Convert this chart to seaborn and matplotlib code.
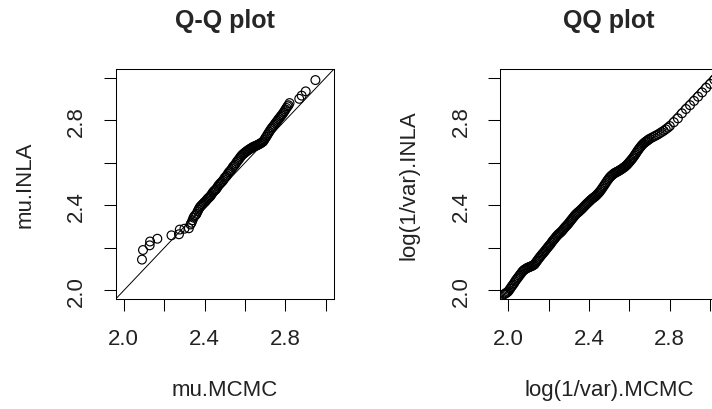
import matplotlib
matplotlib.use("Agg")
import matplotlib.pyplot as plt
import seaborn as sns
import pandas as pd

# ---- data: sorted quantiles ----
# left panel (mu)
mu_mcmc_low = [2.09, 2.095, 2.128, 2.13, 2.166, 2.236, 2.273, 2.277, 2.30, 2.322]
mu_inla_low = [2.145, 2.19, 2.212, 2.23, 2.243, 2.259, 2.264, 2.286, 2.29, 2.292]
mu_mcmc_mid = [2.33, 2.335, 2.34, 2.345, 2.35, 2.355, 2.36, 2.365, 2.37, 2.375,
               2.38, 2.385, 2.39, 2.395, 2.40, 2.405, 2.41, 2.415, 2.42, 2.425,
               2.43, 2.435, 2.44, 2.445, 2.45, 2.455, 2.46, 2.465, 2.47, 2.475,
               2.48, 2.485, 2.49, 2.495, 2.50, 2.505, 2.51, 2.515, 2.52, 2.525,
               2.53, 2.535, 2.54, 2.545, 2.55, 2.555, 2.56, 2.565, 2.57, 2.575,
               2.58, 2.585, 2.59, 2.595, 2.60, 2.605, 2.61, 2.615, 2.62, 2.625,
               2.63, 2.635, 2.64, 2.645, 2.65, 2.655, 2.66, 2.665, 2.67, 2.675,
               2.68, 2.685, 2.69, 2.695, 2.70, 2.705, 2.71, 2.715, 2.72, 2.725,
               2.73, 2.735, 2.74, 2.745, 2.75, 2.755, 2.76, 2.765, 2.77, 2.775,
               2.78, 2.785, 2.79, 2.795, 2.80, 2.805, 2.81]
mu_inla_mid = [2.31, 2.318, 2.33, 2.342, 2.35, 2.354, 2.36, 2.371, 2.38, 2.389,
               2.395, 2.40, 2.405, 2.41, 2.415, 2.419, 2.425, 2.431, 2.435, 2.44,
               2.445, 2.452, 2.46, 2.465, 2.47, 2.474, 2.48, 2.488, 2.495, 2.50,
               2.505, 2.51, 2.515, 2.522, 2.53, 2.534, 2.54, 2.548, 2.555, 2.56,
               2.565, 2.572, 2.58, 2.585, 2.59, 2.598, 2.605, 2.611, 2.617, 2.624,
               2.63, 2.636, 2.64, 2.644, 2.648, 2.652, 2.655, 2.659, 2.662, 2.665,
               2.668, 2.671, 2.674, 2.676, 2.678, 2.68, 2.682, 2.685, 2.687, 2.69,
               2.693, 2.696, 2.70, 2.707, 2.715, 2.722, 2.73, 2.738, 2.745, 2.753,
               2.76, 2.766, 2.772, 2.778, 2.785, 2.791, 2.797, 2.804, 2.81, 2.816,
               2.822, 2.828, 2.835, 2.842, 2.85, 2.857, 2.865]
mu_mcmc_high = [2.815, 2.82, 2.868, 2.88, 2.90, 2.948]
mu_inla_high = [2.87, 2.88, 2.90, 2.915, 2.935, 2.988]

# right panel (log precision)
lp_mcmc_low = [1.98, 1.985, 1.99, 1.995, 2.00, 2.005, 2.01, 2.015, 2.02, 2.025,
               2.03, 2.035, 2.04, 2.045, 2.05, 2.055, 2.06, 2.065, 2.07, 2.075,
               2.08, 2.085, 2.09, 2.095, 2.10, 2.105, 2.11, 2.115, 2.12, 2.125,
               2.13, 2.135, 2.14, 2.145, 2.15, 2.155, 2.16, 2.165, 2.17, 2.175,
               2.18, 2.185, 2.19, 2.195, 2.20, 2.205, 2.21, 2.215, 2.22, 2.225,
               2.23, 2.235, 2.24, 2.245, 2.25, 2.255, 2.26, 2.265, 2.27, 2.275,
               2.28, 2.285, 2.29, 2.295, 2.30, 2.305, 2.31, 2.315, 2.32, 2.325,
               2.33, 2.335, 2.34, 2.345, 2.35, 2.355, 2.36, 2.365, 2.37, 2.375,
               2.38, 2.385, 2.39, 2.395, 2.40, 2.405, 2.41, 2.415, 2.42, 2.425,
               2.43, 2.435, 2.44, 2.445, 2.45, 2.455, 2.46, 2.465, 2.47, 2.475,
               2.48, 2.485, 2.49, 2.495, 2.50, 2.505, 2.51, 2.515, 2.52, 2.525,
               2.53, 2.535, 2.54, 2.545, 2.55, 2.555, 2.56, 2.565, 2.57, 2.575,
               2.58, 2.585, 2.59, 2.595, 2.60, 2.605, 2.61, 2.615, 2.62, 2.625,
               2.63, 2.635, 2.64, 2.645, 2.65, 2.655, 2.66, 2.665, 2.67, 2.675,
               2.68, 2.685, 2.69, 2.695, 2.70]
lp_inla_low = [1.982, 1.985, 1.988, 1.991, 1.995, 2.001, 2.008, 2.015, 2.022, 2.028,
               2.035, 2.043, 2.05, 2.056, 2.062, 2.069, 2.075, 2.081, 2.088, 2.093,
               2.097, 2.10, 2.103, 2.106, 2.108, 2.11, 2.112, 2.114, 2.116, 2.119,
               2.122, 2.128, 2.135, 2.141, 2.148, 2.154, 2.16, 2.166, 2.172, 2.177,
               2.183, 2.189, 2.195, 2.201, 2.207, 2.212, 2.218, 2.225, 2.232, 2.237,
               2.243, 2.249, 2.255, 2.26, 2.265, 2.269, 2.273, 2.278, 2.283, 2.289,
               2.295, 2.30, 2.305, 2.31, 2.316, 2.322, 2.328, 2.334, 2.34, 2.346,
               2.352, 2.357, 2.362, 2.366, 2.37, 2.374, 2.379, 2.383, 2.388, 2.393,
               2.398, 2.403, 2.408, 2.412, 2.417, 2.421, 2.426, 2.43, 2.434, 2.437,
               2.441, 2.445, 2.45, 2.455, 2.46, 2.466, 2.472, 2.479, 2.486, 2.493,
               2.50, 2.507, 2.515, 2.521, 2.528, 2.533, 2.538, 2.542, 2.546, 2.55,
               2.553, 2.555, 2.558, 2.56, 2.563, 2.566, 2.569, 2.572, 2.576, 2.579,
               2.583, 2.587, 2.592, 2.597, 2.603, 2.608, 2.614, 2.62, 2.626, 2.633,
               2.64, 2.647, 2.655, 2.661, 2.668, 2.674, 2.68, 2.685, 2.69, 2.694,
               2.698, 2.701, 2.705, 2.708, 2.712]
lp_mcmc_high = [2.71, 2.72, 2.73, 2.74, 2.75, 2.76, 2.77, 2.78, 2.79, 2.80,
                2.82, 2.84, 2.86, 2.88, 2.90, 2.92, 2.94, 2.96, 2.98, 3.00, 3.02]
lp_inla_high = [2.717, 2.722, 2.727, 2.732, 2.738, 2.744, 2.75, 2.757, 2.764, 2.772,
                2.79, 2.808, 2.832, 2.852, 2.87, 2.89, 2.91, 2.93, 2.952, 2.97, 2.99]

titles = ["Q-Q plot", "QQ plot"]
xlabels = ["mu.MCMC", "log(1/var).MCMC"]
ylabels = ["mu.INLA", "log(1/var).INLA"]
tick_values = [2.0, 2.2, 2.4, 2.6, 2.8, 3.0]
tick_labels = ["2.0", "", "2.4", "", "2.8", ""]

sns.set_style("white")
plt.rcParams["font.family"] = ["Liberation Sans", "DejaVu Sans"]

W, H = 712, 410
fig = plt.figure(figsize=(W / 100, H / 100), dpi=100)

box_w = 218.3
box_top, box_bot = 70, 300
lefts = [115.7, 500.0]
lims = (1.96, 3.04)

datasets = [
    (mu_mcmc_low + mu_mcmc_mid + mu_mcmc_high, mu_inla_low + mu_inla_mid + mu_inla_high),
    (lp_mcmc_low + lp_mcmc_high, lp_inla_low + lp_inla_high),
]

for i, (xs, ys) in enumerate(datasets):
    ax = fig.add_axes([lefts[i] / W, (H - box_bot) / H, box_w / W, (box_bot - box_top) / H])
    df = pd.DataFrame({"x": xs, "y": ys})
    sns.scatterplot(data=df, x="x", y="y", ax=ax, marker="o", s=40,
                    color="black", linewidth=0.85, legend=False, zorder=3)
    coll = ax.collections[-1]
    coll.set_facecolor("none")
    coll.set_edgecolor("black")
    ax.axline((2.0, 2.0), slope=1, color="black", linewidth=0.7, zorder=2)
    ax.set_xlim(lims)
    ax.set_ylim(lims)
    ax.set_xticks(tick_values)
    ax.set_xticklabels(tick_labels)
    ax.set_yticks(tick_values)
    ax.set_yticklabels(tick_labels, rotation=90, va="center")
    ax.tick_params(axis="both", direction="out", length=8.6, width=0.75,
                   color="black", labelsize=16, labelcolor="#222222", pad=12,
                   bottom=True, left=True)
    for sp in ax.spines.values():
        sp.set_visible(True)
        sp.set_color("black")
        sp.set_linewidth(0.75)
    ax.set_xlabel(xlabels[i], fontsize=16, labelpad=22, color="#222222")
    ax.set_ylabel(ylabels[i], fontsize=16, labelpad=22, color="#222222")
    ax.set_title(titles[i], fontsize=18, fontweight="bold", pad=30)

fig.savefig("out.png", dpi=100)
